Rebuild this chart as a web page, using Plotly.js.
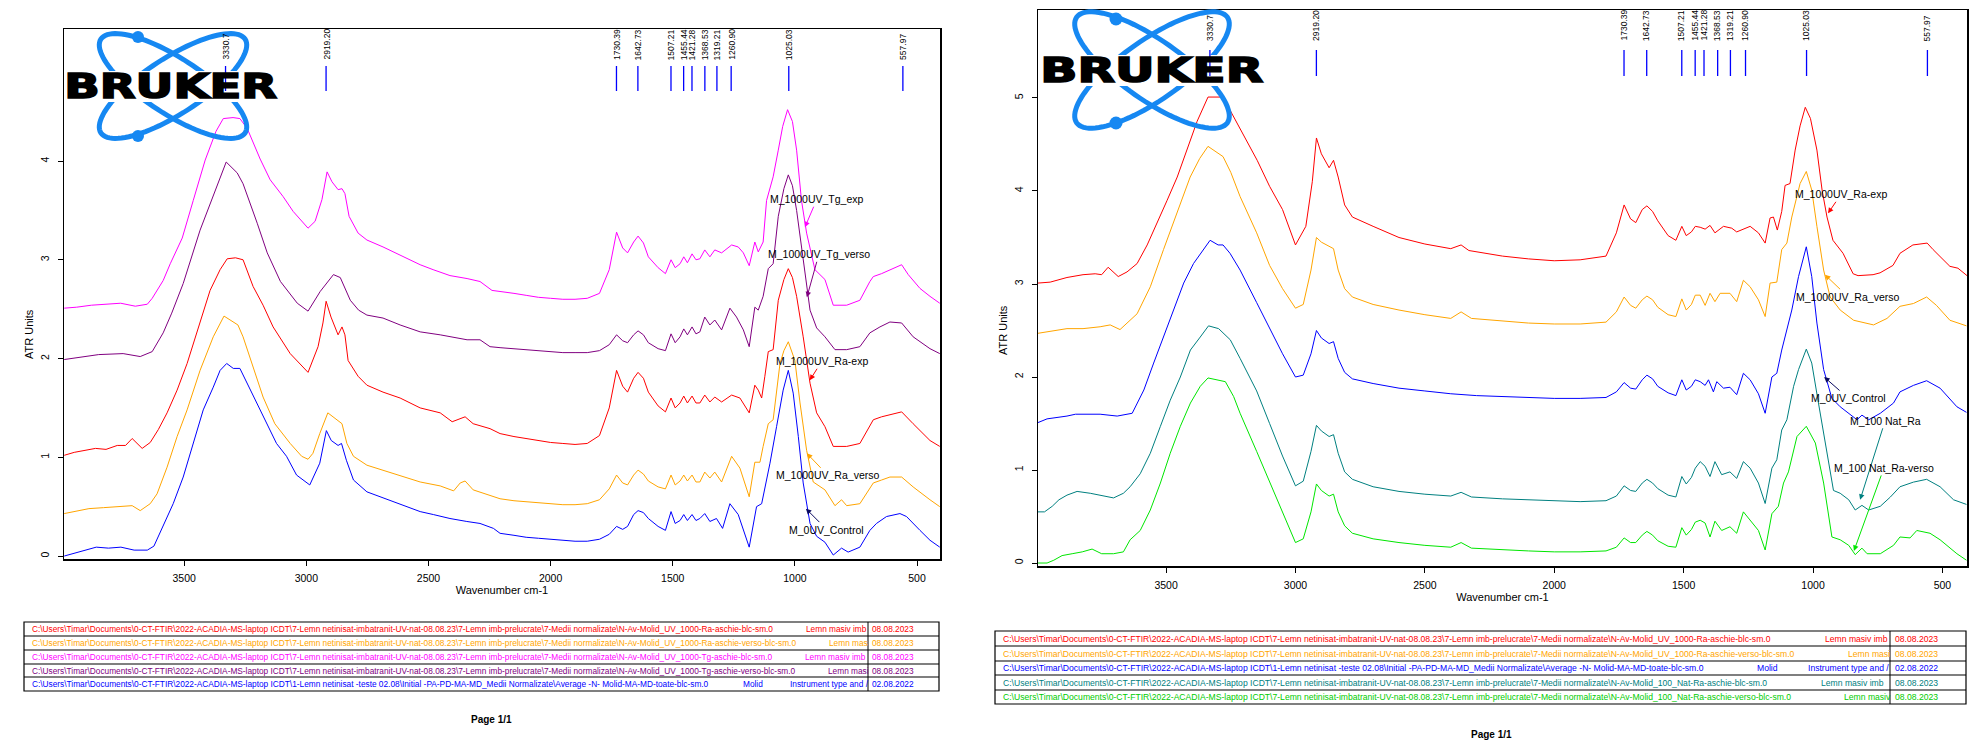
<!DOCTYPE html>
<html>
<head>
<meta charset="utf-8">
<script src="https://cdn.plot.ly/plotly-3.0.1.min.js"></script>
<style>
html,body{margin:0;padding:0;background:#ffffff;}
#chart{width:1986px;height:740px;}
</style>
</head>
<body>
<div id="chart"></div>
<script>
// ---------------- DATA ----------------
// Left panel spectra (wavenumber cm-1, ATR units)
const leftWnTgExp = [3991,3940,3880,3820,3760,3700,3651,3631,3586,3557,3508,3463,3414,3370,3340,3300,3272,3242,3189,3148,3095,3054,2993,2964,2936,2915,2895,2870,2854,2842,2825,2788,2752,2686,2616,2534,2481,2412,2342,2289,2240,2207,2150,2100,2050,2000,1950,1900,1850,1800,1760,1730,1705,1685,1660,1642,1620,1600,1560,1530,1507,1490,1470,1455,1440,1421,1405,1389,1369,1348,1328,1300,1259,1232,1211,1187,1170,1164,1150,1130,1116,1089,1068,1050,1030,1010,993,973,952,918,877,843,788,734,693,679,645,611,563,536,488,447,407];
const leftTgExp = [2.51,2.52,2.54,2.55,2.56,2.53,2.55,2.61,2.79,2.96,3.22,3.60,4.01,4.30,4.43,4.44,4.43,4.33,4.02,3.81,3.64,3.49,3.32,3.39,3.61,3.89,3.79,3.71,3.72,3.67,3.44,3.27,3.20,3.13,3.05,2.95,2.90,2.84,2.81,2.78,2.69,2.68,2.66,2.64,2.62,2.61,2.60,2.60,2.61,2.66,2.90,3.28,3.12,3.07,3.18,3.24,3.17,3.03,2.92,2.86,3.00,2.92,2.96,3.03,2.97,3.06,3.00,3.01,3.10,3.03,3.10,3.07,3.15,3.13,3.07,2.94,3.13,3.18,3.08,3.18,3.60,3.84,4.11,4.35,4.52,4.40,4.11,3.60,3.27,2.90,2.80,2.54,2.54,2.59,2.78,2.83,2.86,2.90,2.95,2.85,2.71,2.63,2.56];

const leftWnTgVerso = [3991,3900,3850,3750,3680,3631,3586,3551,3504,3435,3381,3328,3283,3259,3201,3160,3106,3037,2993,2943,2889,2861,2820,2786,2752,2686,2616,2534,2452,2342,2289,2248,2207,2150,2100,2050,2000,1950,1900,1850,1800,1760,1730,1705,1685,1660,1642,1620,1600,1560,1530,1507,1490,1470,1455,1440,1421,1405,1389,1369,1348,1328,1300,1266,1239,1211,1187,1164,1150,1130,1109,1089,1068,1045,1027,1010,993,966,938,911,877,836,788,734,693,652,611,563,516,447,407];
const leftTgVerso = [1.99,2.02,2.04,2.05,2.02,2.07,2.26,2.46,2.76,3.30,3.64,3.99,3.88,3.77,3.37,3.07,2.78,2.56,2.48,2.68,2.85,2.82,2.59,2.49,2.44,2.41,2.34,2.27,2.24,2.19,2.19,2.12,2.11,2.10,2.09,2.08,2.07,2.06,2.06,2.06,2.08,2.14,2.24,2.18,2.16,2.24,2.28,2.24,2.16,2.10,2.08,2.25,2.16,2.22,2.30,2.24,2.32,2.25,2.27,2.42,2.34,2.39,2.29,2.51,2.42,2.29,2.12,2.52,2.49,2.63,2.91,2.96,3.44,3.72,3.86,3.75,3.50,3.00,2.49,2.31,2.22,2.09,2.09,2.12,2.26,2.32,2.37,2.36,2.22,2.10,2.05];

const leftWnRaExp = [3991,3950,3863,3820,3774,3740,3713,3672,3639,3606,3570,3529,3488,3435,3394,3353,3324,3290,3259,3218,3177,3136,3066,2993,2952,2932,2919,2899,2870,2854,2842,2829,2788,2752,2686,2616,2534,2452,2403,2350,2317,2248,2207,2150,2100,2050,2000,1950,1900,1850,1800,1760,1730,1705,1685,1660,1642,1620,1600,1560,1530,1507,1490,1470,1455,1440,1421,1405,1389,1369,1348,1328,1300,1259,1225,1187,1164,1150,1136,1123,1109,1089,1068,1045,1027,1010,993,966,938,911,877,843,788,734,679,645,611,563,516,447,407];
const leftRaExp = [1.02,1.05,1.09,1.08,1.12,1.12,1.19,1.09,1.15,1.28,1.45,1.68,1.95,2.36,2.69,2.90,3.01,3.02,3.00,2.73,2.54,2.32,2.05,1.86,2.12,2.36,2.58,2.42,2.24,2.32,2.24,1.98,1.82,1.73,1.66,1.60,1.50,1.45,1.36,1.41,1.34,1.29,1.24,1.21,1.19,1.17,1.15,1.14,1.13,1.14,1.22,1.50,1.88,1.72,1.66,1.80,1.86,1.80,1.66,1.52,1.46,1.60,1.50,1.55,1.62,1.55,1.62,1.55,1.55,1.63,1.56,1.61,1.56,1.63,1.60,1.45,1.73,1.68,1.60,1.82,2.07,2.09,2.59,2.80,2.91,2.82,2.63,2.22,1.75,1.45,1.31,1.11,1.11,1.14,1.38,1.41,1.43,1.46,1.34,1.17,1.11];

const leftWnRaVerso = [3991,3930,3890,3830,3760,3713,3680,3639,3611,3570,3529,3488,3435,3381,3337,3280,3259,3218,3177,3129,3066,3019,2993,2973,2945,2912,2889,2854,2834,2807,2752,2686,2616,2534,2452,2397,2370,2350,2317,2248,2207,2150,2100,2050,2000,1950,1900,1850,1800,1760,1730,1705,1685,1660,1642,1620,1600,1560,1530,1507,1490,1470,1455,1440,1421,1405,1389,1369,1348,1328,1300,1259,1225,1187,1164,1143,1130,1109,1089,1061,1045,1027,1000,979,952,925,877,836,809,788,734,679,645,611,563,516,447,407];
const leftRaVerso = [0.43,0.46,0.48,0.49,0.50,0.51,0.46,0.53,0.63,0.90,1.21,1.48,1.88,2.22,2.43,2.34,2.22,1.92,1.61,1.34,1.14,1.01,0.98,1.04,1.24,1.45,1.41,1.34,1.14,1.01,0.92,0.87,0.82,0.75,0.71,0.66,0.74,0.76,0.67,0.61,0.58,0.56,0.55,0.54,0.53,0.52,0.52,0.53,0.57,0.68,0.82,0.74,0.72,0.82,0.87,0.83,0.76,0.70,0.68,0.82,0.72,0.76,0.82,0.76,0.82,0.75,0.75,0.85,0.79,0.85,0.75,1.01,0.89,0.60,0.95,0.95,1.11,1.34,1.38,1.95,2.08,2.17,1.98,1.55,1.07,0.75,0.67,0.51,0.57,0.51,0.53,0.74,0.77,0.80,0.80,0.70,0.57,0.50];

const leftWnControl = [3991,3950,3900,3860,3810,3759,3705,3651,3624,3586,3545,3504,3463,3422,3381,3353,3326,3299,3272,3238,3204,3163,3122,3081,3040,2986,2945,2918,2898,2870,2856,2836,2807,2752,2698,2616,2534,2480,2412,2343,2289,2234,2207,2150,2100,2050,2000,1950,1900,1850,1800,1760,1730,1705,1685,1660,1642,1620,1600,1560,1530,1507,1490,1470,1455,1440,1421,1405,1389,1369,1348,1321,1296,1266,1232,1187,1157,1136,1102,1075,1048,1027,1007,986,966,938,911,877,843,809,782,734,693,666,625,570,543,488,447,407];
const leftControl = [0.00,0.03,0.06,0.09,0.08,0.09,0.06,0.06,0.10,0.30,0.53,0.80,1.14,1.48,1.71,1.88,1.95,1.90,1.90,1.73,1.55,1.34,1.14,1.01,0.82,0.72,0.94,1.27,1.17,1.12,1.14,0.97,0.77,0.65,0.60,0.53,0.45,0.42,0.38,0.35,0.33,0.28,0.23,0.21,0.19,0.18,0.17,0.16,0.15,0.15,0.17,0.22,0.30,0.27,0.30,0.42,0.46,0.44,0.38,0.30,0.26,0.45,0.33,0.36,0.42,0.36,0.42,0.36,0.38,0.43,0.35,0.38,0.28,0.53,0.42,0.09,0.50,0.53,0.94,1.31,1.68,1.88,1.65,1.21,0.74,0.33,0.20,0.14,0.01,0.08,0.04,0.09,0.26,0.33,0.40,0.43,0.40,0.26,0.16,0.09];

// Right panel spectra
const rightWnRaExp = [3995,3948,3883,3821,3774,3749,3724,3685,3651,3612,3573,3535,3496,3457,3419,3380,3338,3284,3253,3214,3148,3100,3050,3000,2960,2935,2919,2900,2870,2853,2835,2810,2780,2700,2600,2500,2400,2360,2330,2200,2100,2000,1900,1800,1760,1730,1705,1685,1660,1642,1620,1600,1560,1530,1507,1490,1470,1455,1436,1417,1398,1379,1346,1314,1295,1243,1211,1185,1166,1153,1138,1121,1108,1089,1069,1050,1030,1010,985,965,946,923,884,845,826,768,741,691,664,614,559,536,471,440,405];
const rightRaExp = [3.01,3.02,3.07,3.10,3.11,3.10,3.18,3.08,3.13,3.22,3.42,3.65,3.90,4.15,4.44,4.75,5.01,5.01,4.87,4.67,4.33,4.05,3.80,3.42,3.62,4.10,4.57,4.40,4.25,4.33,4.15,3.85,3.72,3.62,3.50,3.43,3.38,3.42,3.36,3.30,3.27,3.25,3.26,3.30,3.55,3.85,3.70,3.66,3.80,3.84,3.78,3.68,3.52,3.47,3.62,3.52,3.56,3.62,3.61,3.59,3.63,3.55,3.62,3.60,3.56,3.62,3.55,3.44,3.71,3.72,3.58,3.78,4.06,4.08,4.44,4.70,4.90,4.78,4.44,4.01,3.72,3.47,3.33,3.11,3.09,3.10,3.12,3.20,3.33,3.42,3.44,3.37,3.19,3.17,3.09];

const rightWnRaVerso = [3995,3948,3883,3821,3755,3716,3678,3612,3561,3510,3457,3407,3370,3338,3280,3250,3214,3150,3100,3050,3000,2970,2940,2919,2900,2870,2853,2835,2810,2780,2700,2600,2500,2400,2360,2320,2200,2100,2000,1900,1800,1760,1730,1705,1685,1660,1642,1620,1600,1560,1530,1507,1490,1470,1455,1436,1417,1398,1379,1359,1321,1295,1269,1243,1211,1185,1166,1140,1121,1101,1082,1050,1026,1005,985,959,934,895,843,811,766,714,664,612,561,523,471,407];
const rightRaVerso = [2.47,2.49,2.52,2.52,2.54,2.56,2.51,2.68,2.97,3.37,3.76,4.15,4.35,4.48,4.37,4.20,3.94,3.55,3.20,2.95,2.74,2.78,3.15,3.50,3.45,3.40,3.38,3.15,2.95,2.86,2.78,2.72,2.67,2.63,2.70,2.63,2.60,2.58,2.57,2.57,2.59,2.70,2.86,2.77,2.74,2.83,2.87,2.83,2.75,2.67,2.65,2.84,2.72,2.78,2.88,2.88,2.77,2.90,2.81,2.90,2.90,2.81,3.04,2.97,2.83,2.65,3.01,3.02,3.37,3.44,3.72,4.08,4.21,4.01,3.62,3.15,2.86,2.72,2.61,2.59,2.56,2.63,2.76,2.79,2.86,2.77,2.61,2.55];

const rightWnControl = [3995,3960,3883,3850,3755,3689,3631,3586,3548,3510,3471,3432,3394,3355,3330,3299,3280,3253,3214,3150,3100,3050,3000,2970,2940,2919,2900,2870,2853,2835,2810,2780,2700,2600,2500,2400,2300,2200,2100,2000,1900,1800,1760,1730,1705,1685,1660,1642,1620,1600,1560,1530,1507,1490,1470,1455,1436,1417,1404,1385,1372,1346,1321,1295,1269,1243,1211,1185,1159,1140,1121,1101,1082,1056,1026,1005,985,959,927,895,856,830,811,785,740,689,664,612,561,509,444,407];
const rightControl = [1.51,1.55,1.58,1.60,1.60,1.58,1.61,1.86,2.15,2.43,2.72,3.01,3.22,3.37,3.47,3.42,3.42,3.33,3.15,2.80,2.52,2.25,2.00,2.02,2.25,2.50,2.42,2.36,2.38,2.20,2.05,1.98,1.93,1.88,1.85,1.82,1.80,1.79,1.78,1.77,1.77,1.78,1.84,1.94,1.88,1.87,1.97,2.02,1.98,1.90,1.83,1.80,1.97,1.86,1.90,1.97,1.95,1.91,1.97,1.84,1.95,1.88,1.89,1.81,2.04,1.97,1.82,1.61,2.00,2.04,2.29,2.51,2.72,3.08,3.40,3.08,2.58,2.08,1.77,1.68,1.59,1.54,1.59,1.54,1.61,1.72,1.84,1.91,1.96,1.88,1.68,1.62];

const rightWnNatRa = [3995,3970,3940,3914,3883,3844,3793,3755,3703,3665,3639,3600,3561,3522,3484,3445,3406,3368,3336,3297,3252,3214,3150,3100,3050,3000,2970,2940,2919,2900,2870,2853,2835,2810,2780,2700,2600,2500,2400,2360,2320,2200,2100,2000,1900,1800,1760,1730,1705,1685,1660,1642,1620,1600,1560,1530,1507,1490,1470,1455,1436,1417,1398,1379,1353,1321,1295,1269,1243,1211,1185,1159,1140,1121,1101,1075,1056,1026,1005,979,953,921,895,862,837,811,785,740,701,664,612,561,509,457,407];
const rightNatRa = [0.55,0.55,0.61,0.68,0.73,0.77,0.75,0.73,0.70,0.75,0.82,0.96,1.18,1.47,1.75,2.00,2.29,2.43,2.55,2.52,2.40,2.20,1.85,1.50,1.15,0.83,0.88,1.20,1.48,1.42,1.36,1.38,1.18,0.98,0.90,0.82,0.77,0.74,0.72,0.76,0.71,0.69,0.68,0.67,0.66,0.67,0.72,0.83,0.78,0.77,0.86,0.90,0.86,0.80,0.73,0.71,0.93,0.85,0.92,1.02,1.09,1.04,0.93,1.09,0.95,0.98,0.91,1.09,1.02,0.86,0.64,1.02,1.11,1.43,1.54,1.90,2.08,2.30,2.15,1.72,1.29,0.78,0.75,0.68,0.57,0.62,0.57,0.61,0.71,0.82,0.87,0.90,0.82,0.68,0.63];

const rightWnNatRaVerso = [3995,3960,3934,3902,3863,3824,3786,3749,3703,3665,3639,3600,3561,3522,3484,3445,3406,3368,3338,3303,3271,3239,3214,3150,3100,3050,3000,2970,2940,2919,2900,2870,2853,2835,2810,2780,2700,2600,2500,2400,2360,2320,2200,2100,2000,1900,1800,1760,1730,1705,1685,1660,1642,1620,1600,1560,1530,1507,1490,1470,1455,1436,1417,1398,1379,1353,1321,1295,1269,1243,1211,1185,1159,1134,1114,1095,1062,1026,991,959,927,895,862,837,811,791,740,689,664,625,599,548,509,444,407];
const rightNatRaVerso = [0.00,0.00,0.03,0.08,0.10,0.12,0.15,0.10,0.10,0.12,0.25,0.35,0.57,0.86,1.18,1.47,1.72,1.90,1.99,1.97,1.95,1.79,1.61,1.20,0.88,0.55,0.22,0.26,0.55,0.85,0.78,0.72,0.74,0.55,0.40,0.32,0.26,0.22,0.19,0.17,0.22,0.16,0.14,0.13,0.12,0.12,0.13,0.17,0.27,0.22,0.22,0.30,0.34,0.30,0.24,0.18,0.17,0.38,0.30,0.36,0.44,0.46,0.43,0.28,0.45,0.35,0.39,0.32,0.55,0.46,0.35,0.14,0.53,0.61,0.86,0.98,1.36,1.47,1.29,0.86,0.28,0.25,0.19,0.09,0.16,0.10,0.10,0.19,0.28,0.27,0.35,0.32,0.25,0.10,0.03];

// Peak picks (shared by both panels)
const peakWn = [3330.7,2919.20,1730.39,1642.73,1507.21,1455.44,1421.28,1368.53,1319.21,1260.90,1025.03,557.97];
const peakLabels = ["3330.7","2919.20","1730.39","1642.73","1507.21","1455.44","1421.28","1368.53","1319.21","1260.90","1025.03","557.97"];

// Axis ticks
const xTickVals = [3500,3000,2500,2000,1500,1000,500];
const yTickValsLeft = [0,1,2,3,4];
const yTickValsRight = [0,1,2,3,4,5];

// Curve labels
const leftCurveNames = ["M_1000UV_Tg_exp","M_1000UV_Tg_verso","M_1000UV_Ra-exp","M_1000UV_Ra_verso","M_0UV_Control"];
const rightCurveNames = ["M_1000UV_Ra-exp","M_1000UV_Ra_verso","M_0UV_Control","M_100 Nat_Ra","M_100 Nat_Ra-verso"];

// File tables
const leftTablePaths = [
 "C:\\Users\\Timar\\Documents\\0-CT-FTIR\\2022-ACADIA-MS-laptop ICDT\\7-Lemn netinisat-imbatranit-UV-nat-08.08.23\\7-Lemn imb-prelucrate\\7-Medii normalizate\\N-Av-Molid_UV_1000-Ra-aschie-blc-sm.0",
 "C:\\Users\\Timar\\Documents\\0-CT-FTIR\\2022-ACADIA-MS-laptop ICDT\\7-Lemn netinisat-imbatranit-UV-nat-08.08.23\\7-Lemn imb-prelucrate\\7-Medii normalizate\\N-Av-Molid_UV_1000-Ra-aschie-verso-blc-sm.0",
 "C:\\Users\\Timar\\Documents\\0-CT-FTIR\\2022-ACADIA-MS-laptop ICDT\\7-Lemn netinisat-imbatranit-UV-nat-08.08.23\\7-Lemn imb-prelucrate\\7-Medii normalizate\\N-Av-Molid_UV_1000-Tg-aschie-blc-sm.0",
 "C:\\Users\\Timar\\Documents\\0-CT-FTIR\\2022-ACADIA-MS-laptop ICDT\\7-Lemn netinisat-imbatranit-UV-nat-08.08.23\\7-Lemn imb-prelucrate\\7-Medii normalizate\\N-Av-Molid_UV_1000-Tg-aschie-verso-blc-sm.0",
 "C:\\Users\\Timar\\Documents\\0-CT-FTIR\\2022-ACADIA-MS-laptop ICDT\\1-Lemn netinisat -teste 02.08\\Initial -PA-PD-MA-MD_Medii Normalizate\\Average -N- Molid-MA-MD-toate-blc-sm.0"
];
const leftTableSample = ["Lemn masiv imb","Lemn mas","Lemn masiv imb","Lemn masi","Molid"];
const leftTableExtra = ["","","","","Instrument type and /"];
const leftTableDates = ["08.08.2023","08.08.2023","08.08.2023","08.08.2023","02.08.2022"];

const rightTablePaths = [
 "C:\\Users\\Timar\\Documents\\0-CT-FTIR\\2022-ACADIA-MS-laptop ICDT\\7-Lemn netinisat-imbatranit-UV-nat-08.08.23\\7-Lemn imb-prelucrate\\7-Medii normalizate\\N-Av-Molid_UV_1000-Ra-aschie-blc-sm.0",
 "C:\\Users\\Timar\\Documents\\0-CT-FTIR\\2022-ACADIA-MS-laptop ICDT\\7-Lemn netinisat-imbatranit-UV-nat-08.08.23\\7-Lemn imb-prelucrate\\7-Medii normalizate\\N-Av-Molid_UV_1000-Ra-aschie-verso-blc-sm.0",
 "C:\\Users\\Timar\\Documents\\0-CT-FTIR\\2022-ACADIA-MS-laptop ICDT\\1-Lemn netinisat -teste 02.08\\Initial -PA-PD-MA-MD_Medii Normalizate\\Average -N- Molid-MA-MD-toate-blc-sm.0",
 "C:\\Users\\Timar\\Documents\\0-CT-FTIR\\2022-ACADIA-MS-laptop ICDT\\7-Lemn netinisat-imbatranit-UV-nat-08.08.23\\7-Lemn imb-prelucrate\\7-Medii normalizate\\N-Av-Molid_100_Nat-Ra-aschie-blc-sm.0",
 "C:\\Users\\Timar\\Documents\\0-CT-FTIR\\2022-ACADIA-MS-laptop ICDT\\7-Lemn netinisat-imbatranit-UV-nat-08.08.23\\7-Lemn imb-prelucrate\\7-Medii normalizate\\N-Av-Molid_100_Nat-Ra-aschie-verso-blc-sm.0"
];
const rightTableSample = ["Lemn masiv imb","Lemn masi","Molid","Lemn masiv imb","Lemn masiv"];
const rightTableExtra = ["","","Instrument type and /","",""];
const rightTableDates = ["08.08.2023","08.08.2023","02.08.2022","08.08.2023","08.08.2023"];

// ---------------- LAYOUT HELPERS ----------------
const W = 1986, H = 740;
const px = v => v / W;
const py = v => 1 - v / H;

const COL = {
  red:'#ff0000', orange:'#ffa500', magenta:'#ff00ff', purple:'#800080',
  blue:'#0000ff', teal:'#008080', green:'#00e600', logo:'#1688f2'
};

function ellipsePath(cx, cy, rx, ry, deg) {
  const a = deg * Math.PI / 180, n = 96;
  let d = '';
  for (let i = 0; i <= n; i++) {
    const t = i / n * 2 * Math.PI;
    const ex = rx * Math.cos(t), ey = ry * Math.sin(t);
    const X = cx + ex * Math.cos(a) - ey * Math.sin(a);
    const Y = cy + ex * Math.sin(a) + ey * Math.cos(a);
    d += (i ? 'L' : 'M') + px(X).toFixed(5) + ',' + py(Y).toFixed(5);
  }
  return d + 'Z';
}

function logo(cx, cy, rx, ry, deg, dots, dotR, band) {
  const s = [];
  s.push({type:'path', xref:'paper', yref:'paper', path:ellipsePath(cx,cy,rx,ry,deg), line:{color:COL.logo,width:5}, layer:'above'});
  s.push({type:'path', xref:'paper', yref:'paper', path:ellipsePath(cx,cy,rx,ry,-deg), line:{color:COL.logo,width:5}, layer:'above'});
  dots.forEach(d => s.push({type:'circle', xref:'paper', yref:'paper',
    x0:px(d[0]-dotR), x1:px(d[0]+dotR), y0:py(d[1]+dotR), y1:py(d[1]-dotR),
    fillcolor:COL.logo, line:{color:COL.logo,width:0}, layer:'above'}));
  s.push({type:'rect', xref:'paper', yref:'paper', x0:px(band[0]), x1:px(band[1]), y0:py(band[3]), y1:py(band[2]),
    fillcolor:'#ffffff', line:{width:0}, layer:'above'});
  return s;
}

// ---------------- TRACES ----------------
const line = (x, y, color, xa, ya) => ({type:'scatter', mode:'lines', x:x, y:y, xaxis:xa, yaxis:ya,
  line:{color:color, width:1}, hoverinfo:'skip', showlegend:false});

const traces = [
  line(leftWnTgExp, leftTgExp, COL.magenta, 'x', 'y'),
  line(leftWnTgVerso, leftTgVerso, COL.purple, 'x', 'y'),
  line(leftWnRaExp, leftRaExp, COL.red, 'x', 'y'),
  line(leftWnRaVerso, leftRaVerso, COL.orange, 'x', 'y'),
  line(leftWnControl, leftControl, COL.blue, 'x', 'y'),
  line(rightWnRaExp, rightRaExp, COL.red, 'x2', 'y2'),
  line(rightWnRaVerso, rightRaVerso, COL.orange, 'x2', 'y2'),
  line(rightWnControl, rightControl, COL.blue, 'x2', 'y2'),
  line(rightWnNatRa, rightNatRa, COL.teal, 'x2', 'y2'),
  line(rightWnNatRaVerso, rightNatRaVerso, COL.green, 'x2', 'y2')
];

// ---------------- SHAPES & ANNOTATIONS ----------------
const FONT = 'Liberation Sans, Arial, sans-serif';
const shapes = [];
const annotations = [];

// logos
shapes.push(...logo(173, 86, 86, 28, 33, [[138,37],[138,136]], 6, [65, 279, 71, 102]));
shapes.push(...logo(1152, 70, 92, 30, 35, [[1116,19],[1116,123]], 6.5, [1039.5, 1266, 55, 86]));
annotations.push({xref:'paper', yref:'paper', x:px(170.5), y:py(86.5), xanchor:'center', yanchor:'middle',
  text:'BRUKER', showarrow:false, font:{family:'DejaVu Sans', size:34, color:'#000', weight:'bold'}});
annotations.push({xref:'paper', yref:'paper', x:px(1151.5), y:py(70.5), xanchor:'center', yanchor:'middle',
  text:'BRUKER', showarrow:false, font:{family:'DejaVu Sans', size:34, color:'#000', weight:'bold'}});

// peak markers
peakWn.forEach((w, i) => {
  shapes.push({type:'line', xref:'x', yref:'paper', x0:w, x1:w, y0:py(91), y1:py(66), line:{color:'#0000ff', width:1.3}, layer:'above'});
  shapes.push({type:'line', xref:'x2', yref:'paper', x0:w, x1:w, y0:py(76), y1:py(50), line:{color:'#0000ff', width:1.3}, layer:'above'});
  annotations.push({xref:'x', yref:'paper', x:w, y:py(62), xanchor:'center', yanchor:'bottom', textangle:-90,
    text:peakLabels[i], showarrow:false, font:{family:FONT, size:8.5, color:'#000'}});
  annotations.push({xref:'x2', yref:'paper', x:w, y:py(43), xanchor:'center', yanchor:'bottom', textangle:-90,
    text:peakLabels[i], showarrow:false, font:{family:FONT, size:8.5, color:'#000'}});
});

// curve labels with arrows
const arrowLabel = (xa, ya, name, wn, val, ax, ay, color) => ({
  xref:xa, yref:ya, x:wn, y:val, ax:ax, ay:ay, axref:'pixel', ayref:'pixel',
  text:name, showarrow:true, arrowhead:2, arrowsize:1.1, arrowwidth:1, arrowcolor:color,
  font:{family:FONT, size:10.5, color:'#000'}
});
annotations.push(arrowLabel('x','y', leftCurveNames[0], 959, 3.33, 12, -28, COL.magenta));
annotations.push(arrowLabel('x','y', leftCurveNames[1], 951, 2.62, 12, -43, COL.purple));
annotations.push(arrowLabel('x','y', leftCurveNames[2], 939, 1.78, 12, -19, COL.red));
annotations.push(arrowLabel('x','y', leftCurveNames[3], 951, 1.04, 21, 22, COL.orange));
annotations.push(arrowLabel('x','y', leftCurveNames[4], 955, 0.48, 21, 21, '#0a0a60'));
annotations.push(arrowLabel('x2','y2', rightCurveNames[0], 942, 3.76, 13, -19, COL.red));
annotations.push(arrowLabel('x2','y2', rightCurveNames[1], 954, 3.10, 23, 22, COL.orange));
annotations.push(arrowLabel('x2','y2', rightCurveNames[2], 957, 2.00, 24, 21, '#0a0a60'));
annotations.push(arrowLabel('x2','y2', rightCurveNames[3], 818, 0.68, 25, -79, COL.teal));
annotations.push(arrowLabel('x2','y2', rightCurveNames[4], 842, 0.13, 30, -83, COL.green));

// y-axis titles
annotations.push({xref:'paper', yref:'paper', x:px(29), y:py(334), textangle:-90, text:'ATR Units', showarrow:false,
  xanchor:'center', yanchor:'middle', font:{family:FONT, size:11, color:'#000'}});
annotations.push({xref:'paper', yref:'paper', x:px(1003), y:py(330), textangle:-90, text:'ATR Units', showarrow:false,
  xanchor:'center', yanchor:'middle', font:{family:FONT, size:11, color:'#000'}});

// tables
function table(x0, x1, rows, sepX, paths, samples, extras, dates, colors, pathX, sampleX, extraX, dateX, fs) {
  shapes.push({type:'rect', xref:'paper', yref:'paper', x0:px(x0), x1:px(x1), y0:py(rows[rows.length-1]), y1:py(rows[0]),
    line:{color:'#000', width:1.2}, fillcolor:'rgba(0,0,0,0)', layer:'above'});
  for (let i = 1; i < rows.length - 1; i++) {
    shapes.push({type:'line', xref:'paper', yref:'paper', x0:px(x0), x1:px(x1), y0:py(rows[i]), y1:py(rows[i]),
      line:{color:'#000', width:1.2}, layer:'above'});
  }
  shapes.push({type:'line', xref:'paper', yref:'paper', x0:px(sepX), x1:px(sepX), y0:py(rows[rows.length-1]), y1:py(rows[0]),
    line:{color:'#000', width:1}, layer:'above'});
  for (let i = 0; i < paths.length; i++) {
    const yc = py((rows[i] + rows[i+1]) / 2);
    const f = {family:FONT, size:fs, color:colors[i]};
    annotations.push({xref:'paper', yref:'paper', x:px(pathX), y:yc, xanchor:'left', yanchor:'middle', text:paths[i], showarrow:false, font:f});
    annotations.push({xref:'paper', yref:'paper', x:px(sampleX[i]), y:yc, xanchor:'left', yanchor:'middle', text:samples[i], showarrow:false, font:f});
    if (extras[i]) annotations.push({xref:'paper', yref:'paper', x:px(extraX[i]), y:yc, xanchor:'left', yanchor:'middle', text:extras[i], showarrow:false, font:f});
    annotations.push({xref:'paper', yref:'paper', x:px(dateX), y:yc, xanchor:'left', yanchor:'middle', text:dates[i], showarrow:false, font:f});
  }
}
table(24, 939, [622,636,650,664,677,691], 868, leftTablePaths, leftTableSample, leftTableExtra, leftTableDates,
  [COL.red, COL.orange, COL.magenta, COL.purple, COL.blue], 30,
  [804, 827, 803, 826, 741], [0,0,0,0,788], 870, 8.3);
table(995, 1966, [631,646,661,675,690,704], 1890, rightTablePaths, rightTableSample, rightTableExtra, rightTableDates,
  [COL.red, COL.orange, COL.blue, COL.teal, '#00cc00'], 1001,
  [1823, 1846, 1755, 1819, 1842], [0,0,1806,0,0], 1893, 8.6);

annotations.push({xref:'paper', yref:'paper', x:px(491), y:py(719), text:'<b>Page 1/1</b>', showarrow:false,
  xanchor:'center', yanchor:'middle', font:{family:FONT, size:10, color:'#000'}});
annotations.push({xref:'paper', yref:'paper', x:px(1491), y:py(734), text:'<b>Page 1/1</b>', showarrow:false,
  xanchor:'center', yanchor:'middle', font:{family:FONT, size:10, color:'#000'}});

// ---------------- AXES ----------------
const xAxis = (dom, range, anchor) => ({
  domain:dom, range:range, anchor:anchor, tickvals:xTickVals, ticks:'outside', ticklen:5, tickwidth:1, tickcolor:'#000',
  ticklabelstandoff:4, tickfont:{family:FONT, size:10.5, color:'#000'},
  showline:true, mirror:true, linecolor:'#000', linewidth:1.5, showgrid:false, zeroline:false,
  title:{text:'Wavenumber cm-1', font:{family:FONT, size:11, color:'#000'}, standoff:2}
});
const yAxis = (dom, range, anchor, ticks) => ({
  domain:dom, range:range, anchor:anchor, tickvals:ticks, ticks:'outside', ticklen:5, tickwidth:1, tickcolor:'#000',
  tickangle:-90, ticklabelstandoff:4, tickfont:{family:FONT, size:10.5, color:'#000'},
  showline:true, mirror:true, linecolor:'#000', linewidth:1.5, showgrid:false, zeroline:false
});

const layout = {
  width:W, height:H, margin:{l:0, r:0, t:0, b:0}, paper_bgcolor:'#ffffff', plot_bgcolor:'#ffffff',
  showlegend:false,
  xaxis: xAxis([px(64), px(940)], [3992, 406], 'y'),
  yaxis: yAxis([py(559), py(29)], [-0.03, 5.337], 'x', yTickValsLeft),
  xaxis2: xAxis([px(1038), px(1967)], [3995, 405], 'y2'),
  yaxis2: yAxis([py(566), py(10)], [-0.032, 5.946], 'x2', yTickValsRight),
  shapes: shapes,
  annotations: annotations
};

// Stretch the logo word to the width of the printed logotype (heavy, extended letters)
function styleLogoText() {
  const widths = [213, 223];
  let k = 0;
  document.querySelectorAll('#chart .annotation-text').forEach(t => {
    if (t.textContent === 'BRUKER' && k < widths.length) {
      t.setAttribute('textLength', widths[k]);
      t.setAttribute('lengthAdjust', 'spacingAndGlyphs');
      t.style.stroke = '#000';
      t.style.strokeWidth = '1.6px';
      k++;
    }
  });
}

Plotly.newPlot('chart', traces, layout, {staticPlot:true}).then(styleLogoText);
</script>
</body>
</html>
